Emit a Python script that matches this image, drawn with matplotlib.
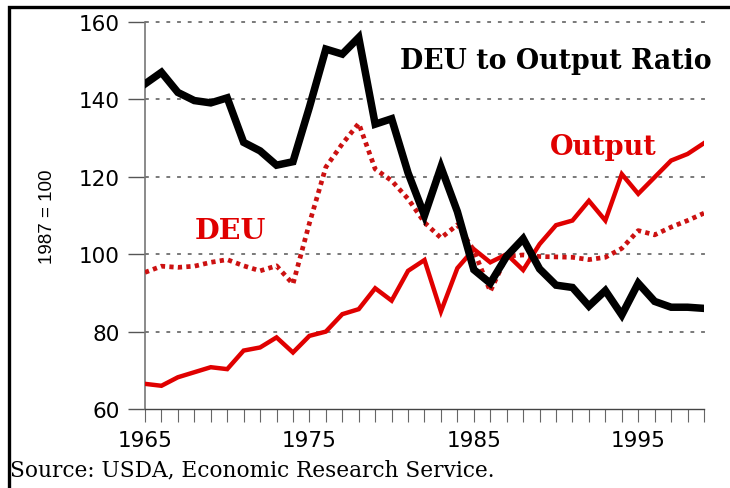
import matplotlib
matplotlib.use("Agg")
import matplotlib.pyplot as plt
from matplotlib.patches import Rectangle

years = list(range(1965, 2000))
ratio = [144, 147, 141.8, 139.7, 139.1, 140.4, 128.9, 126.7, 123, 123.9,
         138, 153, 151.7, 156, 133.6, 135, 121, 110, 122.5, 111,
         96, 92.5, 99.5, 104, 96.2, 92, 91.4, 86.6, 90.6, 84.3,
         92.5, 87.8, 86.3, 86.3, 86]
output = [66.5, 66, 68.2, 69.5, 70.8, 70.3, 75.1, 75.9, 78.5, 74.6,
          78.9, 80, 84.5, 85.8, 91.2, 88, 95.7, 98.5, 85.2, 96.4,
          101.3, 97.9, 100, 95.9, 102.6, 107.5, 108.7, 113.8, 108.7, 120.7,
          115.6, 119.9, 124.2, 125.9, 128.7]
deu = [95.3, 96.9, 96.6, 96.9, 97.9, 98.6, 97, 95.7, 97, 92.3,
       108, 122.5, 128.5, 133.8, 122, 119, 114.3, 108.2, 104.2, 107.6,
       101, 90.4, 99.5, 99.8, 99.4, 99.3, 99.2, 98.6, 99.2, 101.5,
       106.1, 105, 107, 108.7, 110.6]
yticks = [60, 80, 100, 120, 140, 160]
xtick_labels = [1965, 1975, 1985, 1995]

W, H = 730, 489
fig = plt.figure(figsize=(W / 100, H / 100), dpi=100)
ax = fig.add_axes([145 / W, 1 - 410 / H, (704 - 145) / W, (410 - 23) / H])

red = "#e00000"
ax.plot(years, output, color=red, lw=3.2, solid_joinstyle="miter", zorder=3)
ax.plot(years, deu, color="#cc1111", lw=3.4, linestyle=(0, (0.9, 0.9)), zorder=3)
ax.plot(years, ratio, color="black", lw=5.4, solid_joinstyle="miter", zorder=4)

ax.set_xlim(1965, 1999)
ax.set_ylim(60, 160)
for v in yticks[1:]:
    ax.plot([1965, 1999.1], [v, v], color="#555555", lw=1.1,
            linestyle=(0, (2.5, 4.5)), zorder=1, clip_on=False)

ax.set_yticks(yticks)
ax.set_yticklabels([str(v) for v in yticks], fontsize=15.5, family="DejaVu Sans")
ax.set_xticks(xtick_labels)
ax.set_xticklabels([str(v) for v in xtick_labels], fontsize=15.5, family="DejaVu Sans")
ax.set_xticks(years, minor=True)
ax.tick_params(axis="y", which="major", direction="out", length=12.2, width=1,
               color="#555555", pad=6)
ax.tick_params(axis="x", which="both", direction="out", length=9, width=0.8,
               color="#666666")
ax.tick_params(axis="x", which="major", pad=6)

for s in ["top", "right"]:
    ax.spines[s].set_visible(False)
ax.spines["left"].set_color("#777777")
ax.spines["left"].set_linewidth(1.2)
ax.spines["bottom"].set_color("#444444")
ax.spines["bottom"].set_linewidth(1.0)

ax.set_ylabel("1987 = 100", fontsize=13.5, family="Liberation Sans")
ax.yaxis.set_label_coords(-0.16, 0.5)

ax.text(1980.5, 148.0, "DEU to Output Ratio", fontsize=19.3, fontweight="bold",
        family="DejaVu Serif", color="black", ha="left", va="baseline", zorder=5)
ax.text(1989.6, 125.9, "Output", fontsize=19.5, fontweight="bold",
        family="DejaVu Serif", color=red, ha="left", va="baseline", zorder=5)
ax.text(1968.0, 104.2, "DEU", fontsize=20.5, fontweight="bold",
        family="DejaVu Serif", color=red, ha="left", va="baseline", zorder=5)

fig.text(10 / W, 1 - 470 / H, "Source: USDA, Economic Research Service.",
         fontsize=15.6, family="DejaVu Serif", ha="left", va="center")

fig.patches.append(Rectangle((9 / W, -0.05), 1.0, 1 - 8 / H + 0.05,
                             transform=fig.transFigure, fill=False,
                             edgecolor="black", lw=2.4))

fig.savefig("out.png", dpi=100)
